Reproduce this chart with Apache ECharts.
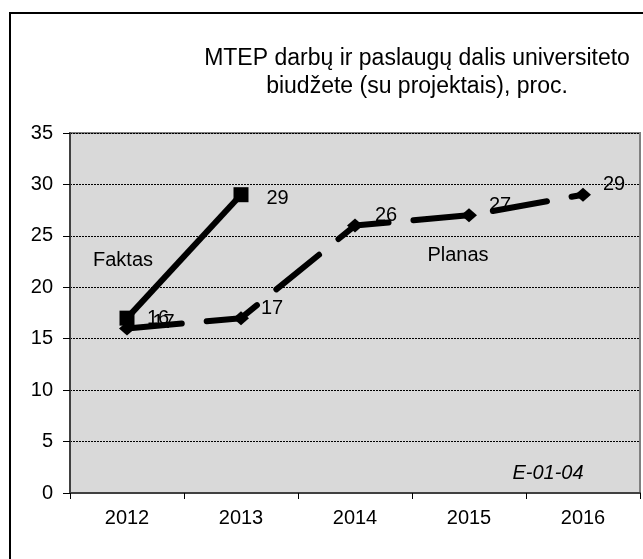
<!DOCTYPE html>
<html>
<head>
<meta charset="utf-8">
<script src="https://cdn.jsdelivr.net/npm/echarts@6/dist/echarts.min.js"></script>
<style>
  html, body { margin: 0; padding: 0; background: #fff; }
  #chart { width: 643px; height: 559px; }
</style>
</head>
<body>
<div id="chart"></div>
<script>
// metai
const years = ["2012", "2013", "2014", "2015", "2016"];
// faktiniai duomenys
const faktas = [17, 29, null, null, null];
// planas
const planas = [16, 17, 26, 27, 29];
const yTicks = { min: 0, max: 35, interval: 5 };

const font = "'Liberation Sans', Arial, sans-serif";
const myChart = echarts.init(document.getElementById("chart"));

let option = {
  backgroundColor: "#fff",
  animation: false,
  title: {
    text: "MTEP darbų ir paslaugų dalis universiteto\nbiudžete (su projektais), proc.",
    left: 412,
    top: 40,
    textAlign: "center",
    textStyle: {
      fontFamily: font,
      fontSize: 23,
      fontWeight: "normal",
      color: "#000",
      lineHeight: 28
    }
  },
  grid: {
    left: 70,
    right: 3,
    top: 133,
    bottom: 66,
    show: true,
    backgroundColor: "#d9d9d9",
    borderColor: "#808080",
    borderWidth: 2
  },
  xAxis: {
    type: "category",
    data: years,
    boundaryGap: true,
    axisLine: { lineStyle: { color: "#404040", width: 2 } },
    axisTick: { show: true, length: 6, lineStyle: { color: "#000" } },
    axisLabel: { fontFamily: font, fontSize: 20, color: "#000", margin: 15 }
  },
  yAxis: {
    type: "value",
    min: yTicks.min,
    max: yTicks.max,
    interval: yTicks.interval,
    axisLine: { show: true, lineStyle: { color: "#404040", width: 2 } },
    axisTick: { show: true, length: 7, lineStyle: { color: "#000" } },
    axisLabel: { fontFamily: font, fontSize: 20, color: "#000", margin: 17 },
    splitLine: { show: true, lineStyle: { color: "#000", type: [2, 1], width: 1 } }
  },
  series: [
    {
      name: "Planas",
      type: "line",
      data: planas,
      symbol: "diamond",
      symbolSize: [16, 14],
      itemStyle: { color: "#000" },
      lineStyle: { color: "#000", width: 6, type: [55, 25], cap: "round" },
      label: {
        show: true,
        position: "right",
        distance: 12,
        offset: [0, -10],
        fontFamily: font,
        fontSize: 20,
        color: "#000"
      }
    },
    {
      name: "Faktas",
      type: "line",
      data: faktas,
      symbol: "rect",
      symbolSize: 15,
      itemStyle: { color: "#000" },
      lineStyle: { color: "#000", width: 6 },
      label: {
        show: true,
        position: "right",
        distance: 18,
        offset: [0, 4],
        fontFamily: font,
        fontSize: 20,
        color: "#000"
      }
    }
  ],
  graphic: [
    {
      type: "rect",
      shape: { x: 10, y: 13, width: 700, height: 620 },
      style: { fill: null, stroke: "#000", lineWidth: 2 },
      silent: true
    },
    {
      type: "text",
      x: 123,
      y: 260,
      style: { text: "Faktas", font: "20px " + font, fill: "#000", textAlign: "center", textVerticalAlign: "middle" }
    },
    {
      type: "text",
      x: 458,
      y: 255,
      style: { text: "Planas", font: "20px " + font, fill: "#000", textAlign: "center", textVerticalAlign: "middle" }
    },
    {
      type: "text",
      x: 548,
      y: 473,
      style: { text: "E-01-04", font: "italic 20px " + font, fill: "#000", textAlign: "center", textVerticalAlign: "middle" }
    }
  ]
};

myChart.setOption(option);
</script>
</body>
</html>
